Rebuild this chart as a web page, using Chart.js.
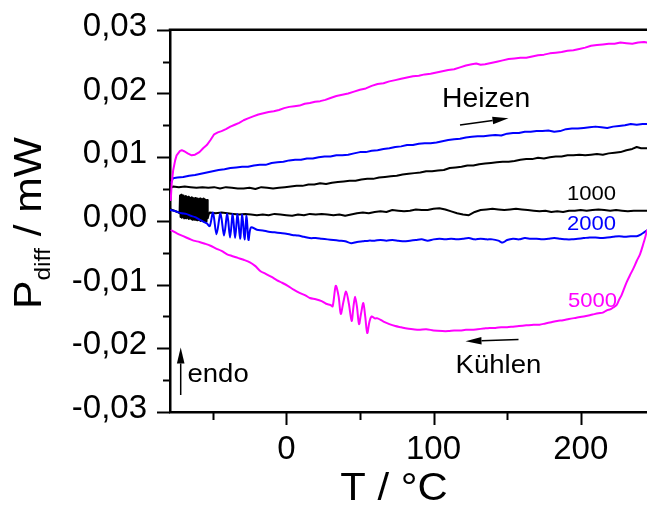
<!DOCTYPE html>
<html>
<head>
<meta charset="utf-8">
<script src="https://cdn.jsdelivr.net/npm/chart.js@4"></script>
<style>
  html, body { margin: 0; padding: 0; background: #ffffff; }
  canvas { display: block; }
</style>
</head>
<body>
<canvas id="c" width="647" height="506"></canvas>
<script>
// DSC difference power, heating and cooling runs at 1000, 2000 and 5000.
// Each series: [T in °C, P_diff in mW]

const heating5000 = [
  [-78.5, 0.0033], [-77.8, 0.0060], [-76.8, 0.0080], [-75.5, 0.0095], [-74.5, 0.0103],
  [-72.2, 0.0110], [-71.0, 0.0111], [-69.0, 0.0109], [-67.0, 0.0106], [-64.3, 0.0103],
  [-62.0, 0.0104], [-59.0, 0.0108], [-56.5, 0.0114], [-54.0, 0.0119], [-51.5, 0.0127],
  [-49.0, 0.0136], [-46.5, 0.0139], [-44.0, 0.0141], [-41.0, 0.0144], [-38.0, 0.0148],
  [-35.0, 0.0151], [-32.0, 0.0154], [-29.0, 0.0158], [-26.0, 0.0161], [-22.5, 0.0164],
  [-19.0, 0.0167], [-15.5, 0.0169], [-12.0, 0.0171], [-8.5, 0.0172], [-5.0, 0.0174],
  [-1.5, 0.0177], [2.0, 0.0179], [5.5, 0.0180], [9.0, 0.0181], [12.5, 0.0184],
  [16.0, 0.0185], [19.5, 0.0187], [23.0, 0.0188], [26.5, 0.0190], [30.0, 0.0193],
  [34.0, 0.0196], [38.0, 0.0198], [42.0, 0.0200], [46.0, 0.0203], [50.0, 0.0206],
  [54.0, 0.0208], [58.0, 0.0212], [62.0, 0.0215], [66.0, 0.0216], [70.0, 0.0219],
  [74.0, 0.0221], [78.0, 0.0223], [82.0, 0.0225], [86.0, 0.0227], [90.0, 0.0228],
  [94.0, 0.0230], [98.0, 0.0231], [102.0, 0.0233], [106.0, 0.0235], [110.0, 0.0237],
  [114.0, 0.0238], [118.0, 0.0241], [122.0, 0.0244], [126.0, 0.0246], [129.0, 0.0247],
  [132.0, 0.0245], [135.0, 0.0246], [139.0, 0.0248], [143.0, 0.0250], [147.0, 0.0252],
  [151.0, 0.0254], [155.0, 0.0255], [159.0, 0.0256], [163.0, 0.0256], [167.0, 0.0258],
  [171.0, 0.0260], [175.0, 0.0261], [179.0, 0.0263], [183.0, 0.0264], [187.0, 0.0265],
  [191.0, 0.0267], [195.0, 0.0268], [199.0, 0.0270], [203.0, 0.0272], [207.0, 0.0275],
  [211.0, 0.0276], [215.0, 0.0277], [219.0, 0.0278], [223.0, 0.0278], [227.0, 0.0280],
  [231.0, 0.0279], [235.0, 0.0278], [239.0, 0.0280], [243.0, 0.0281], [245.0, 0.0280]
];

const cooling5000 = [
  [-78.0, -0.0015], [-74.0, -0.0020], [-70.0, -0.0024], [-66.0, -0.0028], [-63.0, -0.0031],
  [-59.0, -0.0033], [-55.0, -0.0036], [-51.5, -0.0039], [-48.0, -0.0043], [-44.0, -0.0047],
  [-40.5, -0.0052], [-37.0, -0.0055], [-33.0, -0.0058], [-29.0, -0.0061], [-24.7, -0.0065],
  [-21.0, -0.0071], [-17.5, -0.0079], [-14.0, -0.0083], [-10.0, -0.0088], [-6.5, -0.0093],
  [-3.0, -0.0097], [1.0, -0.0102], [5.0, -0.0108], [9.0, -0.0113], [13.0, -0.0117],
  [16.0, -0.0121], [20.0, -0.0123], [24.0, -0.0126], [27.0, -0.0130], [30.0, -0.0132],
  [31.5, -0.0134], [33.6, -0.0102], [35.5, -0.0118], [37.0, -0.0146], [38.8, -0.0127],
  [40.6, -0.0111], [42.5, -0.0130], [44.4, -0.0157], [45.6, -0.0135], [46.7, -0.0119],
  [48.0, -0.0135], [49.4, -0.0162], [50.8, -0.0145], [52.3, -0.0129], [53.6, -0.0150],
  [55.0, -0.0176], [56.5, -0.0158], [58.0, -0.0150], [60.0, -0.0153], [62.0, -0.0153],
  [66.0, -0.0158], [70.0, -0.0162], [74.0, -0.0165], [78.0, -0.0167], [82.0, -0.0169],
  [86.0, -0.0170], [90.0, -0.0171], [95.0, -0.0170], [100.0, -0.0172], [106.0, -0.0173],
  [110.0, -0.0173], [114.0, -0.0172], [118.0, -0.0172], [122.0, -0.0171], [126.0, -0.0171],
  [130.0, -0.0170], [134.0, -0.0169], [138.0, -0.0168], [142.0, -0.0168], [146.0, -0.0167],
  [150.0, -0.0167], [154.0, -0.0166], [158.0, -0.0165], [163.0, -0.0164], [168.0, -0.0163],
  [172.0, -0.0163], [176.0, -0.0161], [180.0, -0.0159], [184.0, -0.0157], [188.0, -0.0156],
  [192.0, -0.0154], [197.0, -0.0152], [202.0, -0.0150], [208.0, -0.0147], [212.0, -0.0145],
  [215.0, -0.0144], [218.0, -0.0140], [220.0, -0.0139], [222.0, -0.0136], [224.4, -0.0132],
  [226.0, -0.0124], [227.8, -0.0116], [229.5, -0.0106], [231.2, -0.0096], [233.5, -0.0085],
  [235.7, -0.0075], [238.0, -0.0063], [240.3, -0.0052], [242.5, -0.0036], [244.0, -0.0024],
  [245.0, -0.0015]
];

const heating2000 = [
  [-78.0, 0.0061], [-77.0, 0.0067], [-74.0, 0.0068], [-70.0, 0.0069], [-66.0, 0.0071],
  [-62.0, 0.0072], [-58.0, 0.0074], [-54.0, 0.0076], [-50.0, 0.0078], [-46.0, 0.0080],
  [-42.0, 0.0081], [-38.0, 0.0083], [-34.0, 0.0084], [-30.0, 0.0085], [-26.0, 0.0085],
  [-22.0, 0.0087], [-18.0, 0.0088], [-14.0, 0.0088], [-10.0, 0.0091], [-6.0, 0.0092],
  [-2.0, 0.0093], [2.0, 0.0095], [6.0, 0.0096], [10.0, 0.0096], [14.0, 0.0098],
  [18.0, 0.0098], [22.0, 0.0100], [26.0, 0.0101], [30.0, 0.0101], [34.0, 0.0103],
  [38.0, 0.0103], [42.0, 0.0104], [46.0, 0.0106], [50.0, 0.0108], [54.0, 0.0108],
  [58.0, 0.0110], [62.0, 0.0111], [66.0, 0.0113], [70.0, 0.0114], [74.0, 0.0116],
  [78.0, 0.0117], [82.0, 0.0119], [86.0, 0.0119], [90.0, 0.0121], [94.0, 0.0122],
  [98.0, 0.0122], [102.0, 0.0123], [106.0, 0.0125], [110.0, 0.0127], [114.0, 0.0128],
  [118.0, 0.0129], [122.0, 0.0131], [126.0, 0.0132], [130.0, 0.0133], [134.0, 0.0133],
  [138.0, 0.0134], [142.0, 0.0135], [146.0, 0.0134], [150.0, 0.0137], [154.0, 0.0138],
  [158.0, 0.0138], [162.0, 0.0140], [166.0, 0.0140], [170.0, 0.0141], [174.0, 0.0141],
  [178.0, 0.0142], [182.0, 0.0140], [186.0, 0.0141], [190.0, 0.0144], [194.0, 0.0145],
  [198.0, 0.0145], [202.0, 0.0146], [206.0, 0.0147], [210.0, 0.0148], [214.0, 0.0147],
  [218.0, 0.0146], [222.0, 0.0148], [226.0, 0.0149], [230.0, 0.0150], [234.0, 0.0152],
  [238.0, 0.0151], [242.0, 0.0152], [245.0, 0.0152]
];

const cooling2000 = [
  [-78.7, 0.0017], [-76.5, 0.0016], [-74.0, 0.0014], [-71.0, 0.0012], [-68.0, 0.0011],
  [-65.0, 0.0008], [-62.0, 0.0006], [-59.0, 0.0002], [-56.5, -0.0001], [-54.0, -0.0004],
  [-52.0, -0.0008], [-49.8, 0.0013], [-47.4, -0.0021], [-44.7, 0.0012], [-42.3, -0.0023],
  [-40.1, 0.0011], [-38.2, -0.0026], [-36.4, 0.0011], [-34.8, -0.0027], [-33.1, 0.0011],
  [-31.4, -0.0028], [-29.9, 0.0010], [-28.4, -0.0029], [-27.0, 0.0008], [-25.7, -0.0030],
  [-24.0, -0.0010], [-20.0, -0.0014], [-16.0, -0.0015], [-12.0, -0.0017], [-8.0, -0.0018],
  [-4.0, -0.0019], [0.0, -0.0020], [4.0, -0.0022], [8.0, -0.0023], [12.0, -0.0025],
  [16.0, -0.0027], [20.0, -0.0027], [24.0, -0.0028], [28.0, -0.0029], [32.0, -0.0030],
  [36.0, -0.0031], [40.0, -0.0032], [44.0, -0.0035], [48.0, -0.0033], [52.0, -0.0032],
  [56.0, -0.0031], [60.0, -0.0031], [64.0, -0.0030], [68.0, -0.0031], [72.0, -0.0030],
  [76.0, -0.0031], [80.0, -0.0032], [84.0, -0.0031], [88.0, -0.0030], [92.0, -0.0029],
  [96.0, -0.0031], [100.0, -0.0029], [104.0, -0.0028], [108.0, -0.0029], [112.0, -0.0028],
  [116.0, -0.0029], [120.0, -0.0028], [124.0, -0.0027], [128.0, -0.0029], [132.0, -0.0028],
  [136.0, -0.0029], [140.0, -0.0029], [144.0, -0.0031], [147.0, -0.0034], [150.0, -0.0030],
  [154.0, -0.0028], [158.0, -0.0029], [162.0, -0.0027], [166.0, -0.0028], [170.0, -0.0028],
  [174.0, -0.0029], [178.0, -0.0028], [182.0, -0.0027], [186.0, -0.0028], [190.0, -0.0029],
  [194.0, -0.0029], [198.0, -0.0028], [202.0, -0.0027], [206.0, -0.0026], [210.0, -0.0026],
  [214.0, -0.0027], [218.0, -0.0026], [222.0, -0.0025], [226.0, -0.0024], [230.0, -0.0025],
  [234.0, -0.0024], [238.0, -0.0024], [241.0, -0.0021], [243.0, -0.0018], [245.0, -0.0015]
];

const heating1000 = [
  [-78.5, 0.0052], [-76.8, 0.0054], [-73.0, 0.0053], [-69.0, 0.0054], [-65.0, 0.0053],
  [-61.0, 0.0052], [-57.0, 0.0053], [-53.0, 0.0052], [-49.0, 0.0053], [-45.0, 0.0051],
  [-41.0, 0.0053], [-37.0, 0.0052], [-33.0, 0.0051], [-29.0, 0.0051], [-25.0, 0.0052],
  [-21.0, 0.0050], [-17.0, 0.0053], [-13.0, 0.0052], [-9.0, 0.0051], [-5.0, 0.0052],
  [-1.0, 0.0053], [3.0, 0.0054], [7.0, 0.0055], [11.0, 0.0055], [15.0, 0.0057],
  [19.0, 0.0057], [23.0, 0.0059], [27.0, 0.0058], [31.0, 0.0060], [35.0, 0.0061],
  [39.0, 0.0062], [43.0, 0.0063], [47.0, 0.0063], [51.0, 0.0065], [55.0, 0.0066],
  [59.0, 0.0066], [63.0, 0.0068], [67.0, 0.0069], [71.0, 0.0070], [75.0, 0.0071],
  [79.0, 0.0073], [83.0, 0.0074], [87.0, 0.0075], [91.0, 0.0076], [95.0, 0.0078],
  [99.0, 0.0078], [103.0, 0.0079], [107.0, 0.0080], [111.0, 0.0083], [115.0, 0.0084],
  [119.0, 0.0085], [123.0, 0.0087], [127.0, 0.0087], [131.0, 0.0089], [135.0, 0.0090],
  [139.0, 0.0091], [143.0, 0.0092], [147.0, 0.0093], [151.0, 0.0093], [155.0, 0.0094],
  [159.0, 0.0096], [163.0, 0.0097], [167.0, 0.0097], [171.0, 0.0099], [175.0, 0.0098],
  [179.0, 0.0100], [183.0, 0.0101], [187.0, 0.0101], [191.0, 0.0103], [195.0, 0.0103],
  [199.0, 0.0104], [203.0, 0.0103], [207.0, 0.0104], [211.0, 0.0105], [215.0, 0.0104],
  [219.0, 0.0106], [223.0, 0.0107], [227.0, 0.0108], [231.0, 0.0111], [235.0, 0.0113],
  [238.0, 0.0116], [241.0, 0.0114], [245.0, 0.0114]
];

const cooling1000 = [
  [-78.5, 0.0018], [-76.0, 0.0016], [-74.0, 0.0014], [-72.5, 0.0012],
  [-72.2, 0.0040], [-71.8, 0.0006], [-71.4, 0.0041], [-71.0, 0.0005], [-70.6, 0.0039],
  [-70.2, 0.0006], [-69.8, 0.0040], [-69.4, 0.0004], [-69.0, 0.0038], [-68.6, 0.0005],
  [-68.2, 0.0039], [-67.8, 0.0004], [-67.4, 0.0037], [-67.0, 0.0005], [-66.6, 0.0038],
  [-66.2, 0.0003], [-65.8, 0.0037], [-65.4, 0.0004], [-65.0, 0.0036], [-64.6, 0.0003],
  [-64.2, 0.0037], [-63.8, 0.0002], [-63.4, 0.0036], [-63.0, 0.0003], [-62.6, 0.0035],
  [-62.2, 0.0002], [-61.8, 0.0036], [-61.4, 0.0002], [-61.0, 0.0035], [-60.6, 0.0001],
  [-60.2, 0.0035], [-59.8, 0.0002], [-59.4, 0.0034], [-59.0, 0.0001], [-58.6, 0.0035],
  [-58.2, 0.0000], [-57.8, 0.0034], [-57.4, 0.0001], [-57.0, 0.0034], [-56.6, 0.0000],
  [-56.2, 0.0035], [-55.8, -0.0001], [-55.4, 0.0034], [-55.0, 0.0000], [-54.6, 0.0033],
  [-54.2, -0.0001], [-53.8, 0.0033], [-53.4, 0.0004], [-52.5, 0.0012],
  [-52.0, 0.0013], [-48.0, 0.0012], [-44.0, 0.0013], [-40.0, 0.0012], [-36.0, 0.0011],
  [-32.0, 0.0010], [-28.0, 0.0011], [-24.0, 0.0010], [-20.0, 0.0009], [-16.0, 0.0010],
  [-12.0, 0.0009], [-8.0, 0.0011], [-4.0, 0.0010], [0.0, 0.0009], [4.0, 0.0008],
  [8.0, 0.0010], [12.0, 0.0009], [16.0, 0.0011], [20.0, 0.0010], [24.0, 0.0011],
  [28.0, 0.0010], [32.0, 0.0009], [36.0, 0.0010], [40.0, 0.0008], [44.0, 0.0010],
  [48.0, 0.0012], [52.0, 0.0013], [56.0, 0.0012], [60.0, 0.0014], [64.0, 0.0015],
  [68.0, 0.0014], [72.0, 0.0017], [76.0, 0.0016], [80.0, 0.0015], [84.0, 0.0016],
  [88.0, 0.0018], [92.0, 0.0017], [96.0, 0.0017], [100.0, 0.0019], [104.0, 0.0020],
  [108.0, 0.0018], [112.0, 0.0015], [116.0, 0.0012], [120.0, 0.0010], [124.0, 0.0009],
  [128.0, 0.0014], [132.0, 0.0017], [136.0, 0.0018], [140.0, 0.0019], [144.0, 0.0018],
  [148.0, 0.0017], [152.0, 0.0018], [156.0, 0.0019], [160.0, 0.0018], [164.0, 0.0017],
  [168.0, 0.0016], [172.0, 0.0015], [176.0, 0.0016], [180.0, 0.0014], [184.0, 0.0015],
  [188.0, 0.0014], [192.0, 0.0016], [196.0, 0.0016], [200.0, 0.0017], [204.0, 0.0016],
  [208.0, 0.0017], [212.0, 0.0018], [216.0, 0.0017], [220.0, 0.0016], [224.0, 0.0017],
  [228.0, 0.0016], [232.0, 0.0015], [236.0, 0.0016], [240.0, 0.0016], [245.0, 0.0016]
];

// Axis ticks: every tick gets a mark, only the labelled ones are long
const xTickValues = [-50, 0, 50, 100, 150, 200];
const xTickLabels = ['', '0', '', '100', '', '200'];
const yTickValues = [-0.03, -0.025, -0.02, -0.015, -0.01, -0.005, 0, 0.005, 0.01, 0.015, 0.02, 0.025, 0.03];
const yTickLabels = ['-0,03', '', '-0,02', '', '-0,01', '', '0,00', '', '0,01', '', '0,02', '', '0,03'];

const FONT = '"Liberation Sans", Arial, Helvetica, sans-serif';
const BLACK = '#000000';
const BLUE = '#0000ff';
const MAGENTA = '#ff00ff';

function toPoints(pairs) {
  return pairs.map(([t, p]) => ({ x: t, y: p }));
}

function series(pairs, color, tension) {
  return {
    data: toPoints(pairs),
    borderColor: color,
    borderWidth: 2,
    pointRadius: 0,
    tension: tension || 0,
    fill: false
  };
}

function drawText(ctx, str, x, y, size, color, sx) {
  ctx.save();
  ctx.font = size + 'px ' + FONT;
  ctx.fillStyle = color;
  ctx.textBaseline = 'alphabetic';
  ctx.textAlign = 'left';
  ctx.translate(x, y);
  ctx.scale(sx, 1);
  ctx.fillText(str, 0, 0);
  ctx.restore();
}

function drawArrow(ctx, x1, y1, x2, y2, headLen, headHalf) {
  const ang = Math.atan2(y2 - y1, x2 - x1);
  const bx = x2 - headLen * Math.cos(ang);
  const by = y2 - headLen * Math.sin(ang);
  ctx.save();
  ctx.strokeStyle = BLACK;
  ctx.fillStyle = BLACK;
  ctx.lineWidth = 1.5;
  ctx.beginPath();
  ctx.moveTo(x1, y1);
  ctx.lineTo(bx, by);
  ctx.stroke();
  ctx.beginPath();
  ctx.moveTo(x2, y2);
  ctx.lineTo(bx + headHalf * Math.sin(ang), by - headHalf * Math.cos(ang));
  ctx.lineTo(bx - headHalf * Math.sin(ang), by + headHalf * Math.cos(ang));
  ctx.closePath();
  ctx.fill();
  ctx.restore();
}

// Frame top edge, tick marks, axis titles and the run annotations
const decorations = {
  id: 'decorations',
  afterDraw(chart) {
    const { ctx, chartArea: a, scales } = chart;
    const xs = scales.x, ys = scales.y;

    ctx.save();
    ctx.strokeStyle = BLACK;
    ctx.lineWidth = 2.5;
    ctx.beginPath();
    ctx.moveTo(a.left - 1.25, a.top);
    ctx.lineTo(a.right, a.top);
    ctx.stroke();

    ctx.lineWidth = 2;
    xTickValues.forEach((v, i) => {
      const px = Math.round(xs.getPixelForValue(v)) + 0.5;
      const len = xTickLabels[i] ? 13 : 8;
      ctx.beginPath();
      ctx.moveTo(px, a.bottom);
      ctx.lineTo(px, a.bottom + len);
      ctx.stroke();
    });
    yTickValues.forEach((v, i) => {
      const py = Math.round(ys.getPixelForValue(v)) + 0.5;
      const len = yTickLabels[i] ? 13 : 7;
      ctx.beginPath();
      ctx.moveTo(a.left, py);
      ctx.lineTo(a.left - len, py);
      ctx.stroke();
    });
    ctx.restore();

    // x axis title
    ctx.save();
    ctx.font = '38px ' + FONT;
    ctx.fillStyle = BLACK;
    ctx.textBaseline = 'alphabetic';
    ctx.textAlign = 'center';
    ctx.translate(394, 500);
    ctx.scale(1.1, 1);
    ctx.fillText('T / °C', 0, 0);
    ctx.restore();

    // y axis title with subscript
    ctx.save();
    ctx.fillStyle = BLACK;
    ctx.textBaseline = 'alphabetic';
    ctx.textAlign = 'left';
    ctx.translate(41, 309);
    ctx.rotate(-Math.PI / 2);
    ctx.scale(1.12, 1);
    ctx.font = '38px ' + FONT;
    ctx.fillText('P', 0, 0);
    let w = ctx.measureText('P').width;
    ctx.font = '22px ' + FONT;
    ctx.fillText('diff', w, 8.5);
    w += ctx.measureText('diff').width;
    ctx.font = '38px ' + FONT;
    ctx.fillText(' / mW', w, 0);
    ctx.restore();

    // annotations
    drawText(ctx, 'Heizen', 442, 106.5, 27, BLACK, 1.05);
    drawArrow(ctx, 460, 125, 508.5, 118.3, 16, 3.8);
    drawText(ctx, '1000', 567, 200, 21, BLACK, 1.05);
    drawText(ctx, '2000', 567, 230, 21, BLUE, 1.05);
    drawText(ctx, '5000', 568, 306.5, 21, MAGENTA, 1.05);
    drawArrow(ctx, 518.5, 339.5, 465.5, 341.3, 16, 3.8);
    drawText(ctx, 'Kühlen', 455.5, 372.5, 26, BLACK, 1.06);
    drawArrow(ctx, 180.7, 395, 180.7, 347.5, 16, 3.8);
    drawText(ctx, 'endo', 187.5, 381.5, 25, BLACK, 1.1);
  }
};

new Chart(document.getElementById('c'), {
  type: 'line',
  data: {
    datasets: [
      series(heating5000, MAGENTA),
      series(cooling5000, MAGENTA, 0.3),
      series(heating2000, BLUE),
      series(cooling2000, BLUE, 0.3),
      series(heating1000, BLACK),
      series(cooling1000, BLACK)
    ]
  },
  options: {
    responsive: false,
    animation: false,
    devicePixelRatio: 1,
    layout: { padding: { top: 25, left: 0, right: 0, bottom: 0 } },
    plugins: { legend: { display: false }, tooltip: { enabled: false } },
    elements: { line: { borderJoinStyle: 'round', borderCapStyle: 'round' } },
    scales: {
      x: {
        type: 'linear',
        position: 'bottom',
        min: -79,
        max: 245,
        afterBuildTicks: (s) => { s.ticks = xTickValues.map(v => ({ value: v })); },
        afterFit: (s) => { s.height = 94; },
        grid: { display: false, drawTicks: true, tickLength: 13 },
        border: { display: true, color: BLACK, width: 2.5 },
        ticks: {
          autoSkip: false,
          maxRotation: 0,
          padding: 5,
          color: BLACK,
          font: { family: FONT, size: 33 },
          callback: (v, i) => xTickLabels[i]
        }
      },
      y: {
        type: 'linear',
        position: 'left',
        min: -0.03,
        max: 0.03,
        afterBuildTicks: (s) => { s.ticks = yTickValues.map(v => ({ value: v })); },
        afterFit: (s) => { s.width = 170; },
        grid: { display: false, drawTicks: true, tickLength: 13 },
        border: { display: true, color: BLACK, width: 2.5 },
        ticks: {
          autoSkip: false,
          padding: 10,
          labelOffset: -3,
          color: BLACK,
          font: { family: FONT, size: 33 },
          callback: (v, i) => yTickLabels[i]
        }
      }
    }
  },
  plugins: [decorations]
});
</script>
</body>
</html>
